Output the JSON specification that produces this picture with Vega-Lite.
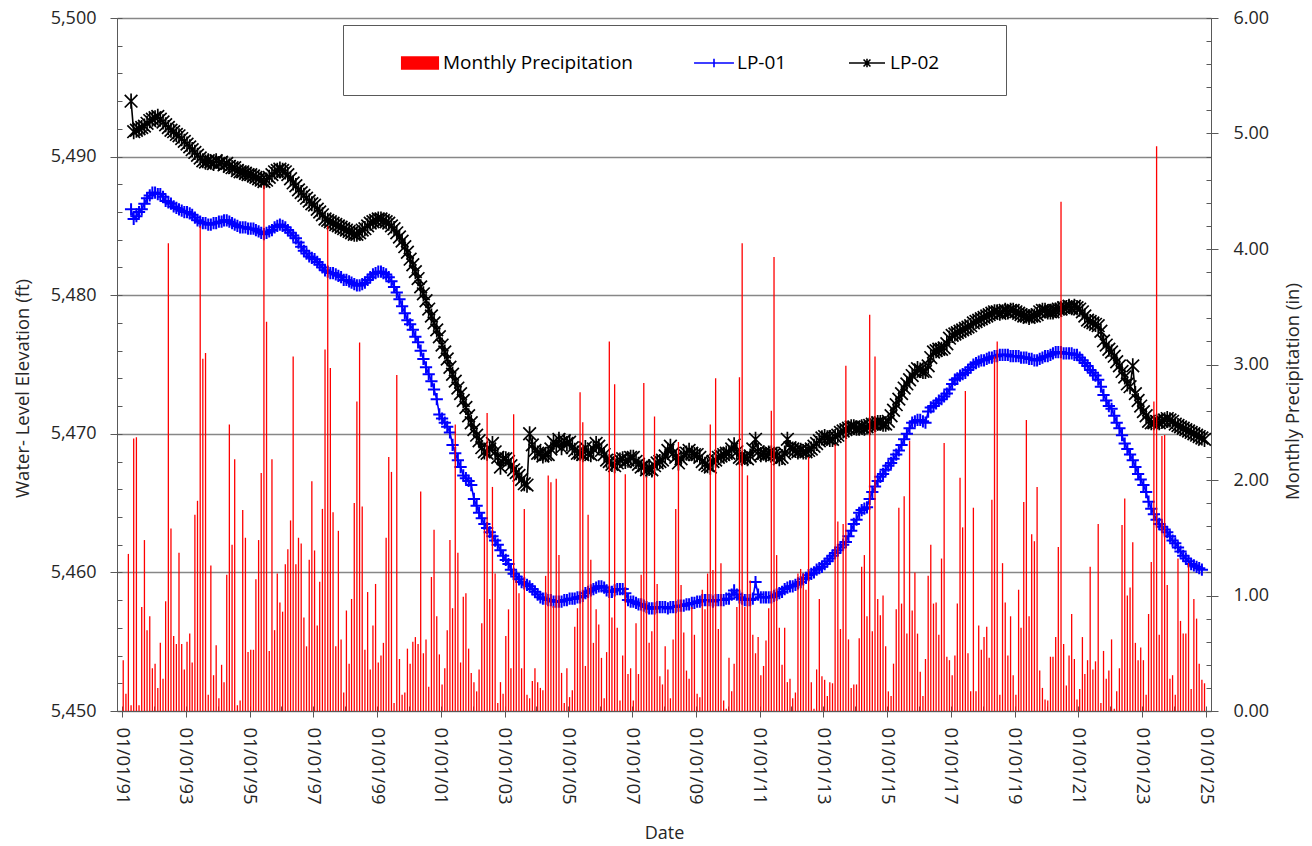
{
"$schema": "https://vega.github.io/schema/vega-lite/v6.json",
"width": 1094, "height": 693,
"autosize": {"type": "none"},
"padding": {"left": 117, "top": 18, "right": 101, "bottom": 135},
"background": "white",
"config": {"view": {"stroke": null}, "font": "Open Sans",
 "axis": {"labelFont": "Open Sans", "titleFont": "Open Sans", "labelColor": "#262626", "titleColor": "#262626", "titleFontWeight": "normal", "domainColor": "#595959", "tickColor": "#595959", "tickWidth": 1, "domainWidth": 1}},
"datasets": {"m": [
{"d":"1991-01-15","p":0.44,"a":null,"b":null},{"d":"1991-02-15","p":0.15,"a":null,"b":null},{"d":"1991-03-15","p":1.36,"a":null,"b":null},{"d":"1991-04-15","p":0.05,"a":5486.2,"b":5494.0},{"d":"1991-05-15","p":2.36,"a":5485.5,"b":5491.8},{"d":"1991-06-15","p":2.37,"a":5485.7,"b":5491.9},{"d":"1991-07-15","p":0.05,"a":5486.0,"b":5492.0},{"d":"1991-08-15","p":0.9,"a":5486.2,"b":5492.1},{"d":"1991-09-15","p":1.48,"a":5486.6,"b":5492.2},{"d":"1991-10-15","p":0.7,"a":5487.0,"b":5492.4},{"d":"1991-11-15","p":0.82,"a":5487.2,"b":5492.6},{"d":"1991-12-15","p":0.37,"a":5487.4,"b":5492.7},
{"d":"1992-01-15","p":0.41,"a":5487.4,"b":5492.8},{"d":"1992-02-15","p":0.2,"a":5487.3,"b":5492.9},{"d":"1992-03-15","p":0.59,"a":5487.3,"b":5492.7},{"d":"1992-04-15","p":0.28,"a":5487.1,"b":5492.5},{"d":"1992-05-15","p":0.95,"a":5486.8,"b":5492.3},{"d":"1992-06-15","p":4.05,"a":5486.7,"b":5492.1},{"d":"1992-07-15","p":1.58,"a":5486.6,"b":5491.9},{"d":"1992-08-15","p":0.65,"a":5486.4,"b":5491.8},{"d":"1992-09-15","p":0.58,"a":5486.3,"b":5491.6},{"d":"1992-10-15","p":1.37,"a":5486.2,"b":5491.5},{"d":"1992-11-15","p":0.58,"a":5486.1,"b":5491.3},{"d":"1992-12-15","p":0.36,"a":5486.0,"b":5491.1},
{"d":"1993-01-15","p":0.6,"a":5486.0,"b":5490.9},{"d":"1993-02-15","p":0.67,"a":5485.9,"b":5490.7},{"d":"1993-03-15","p":0.42,"a":5485.8,"b":5490.5},{"d":"1993-04-15","p":1.7,"a":5485.6,"b":5490.3},{"d":"1993-05-15","p":1.82,"a":5485.4,"b":5490.1},{"d":"1993-06-15","p":4.2,"a":5485.3,"b":5489.9},{"d":"1993-07-15","p":3.05,"a":5485.2,"b":5489.7},{"d":"1993-08-15","p":3.1,"a":5485.2,"b":5489.6},{"d":"1993-09-15","p":0.14,"a":5485.1,"b":5489.7},{"d":"1993-10-15","p":1.26,"a":5485.1,"b":5489.6},{"d":"1993-11-15","p":0.31,"a":5485.2,"b":5489.5},{"d":"1993-12-15","p":0.57,"a":5485.2,"b":5489.7},
{"d":"1994-01-15","p":0.11,"a":5485.3,"b":5489.5},{"d":"1994-02-15","p":0.4,"a":5485.3,"b":5489.6},{"d":"1994-03-15","p":0.25,"a":5485.4,"b":5489.4},{"d":"1994-04-15","p":1.18,"a":5485.4,"b":5489.5},{"d":"1994-05-15","p":2.48,"a":5485.3,"b":5489.3},{"d":"1994-06-15","p":1.44,"a":5485.2,"b":5489.2},{"d":"1994-07-15","p":2.18,"a":5485.1,"b":5489.2},{"d":"1994-08-15","p":0.05,"a":5485.0,"b":5489.0},{"d":"1994-09-15","p":0.09,"a":5484.9,"b":5488.9},{"d":"1994-10-15","p":1.74,"a":5484.9,"b":5488.9},{"d":"1994-11-15","p":1.5,"a":5484.9,"b":5488.8},{"d":"1994-12-15","p":0.51,"a":5484.8,"b":5488.7},
{"d":"1995-01-15","p":0.53,"a":5484.8,"b":5488.7},{"d":"1995-02-15","p":0.53,"a":5484.8,"b":5488.6},{"d":"1995-03-15","p":1.14,"a":5484.7,"b":5488.5},{"d":"1995-04-15","p":1.48,"a":5484.6,"b":5488.4},{"d":"1995-05-15","p":2.06,"a":5484.5,"b":5488.3},{"d":"1995-06-15","p":4.55,"a":5484.4,"b":5488.2},{"d":"1995-07-15","p":3.37,"a":5484.5,"b":5488.3},{"d":"1995-08-15","p":0.52,"a":5484.6,"b":5488.5},{"d":"1995-09-15","p":2.18,"a":5484.7,"b":5488.7},{"d":"1995-10-15","p":0.7,"a":5484.9,"b":5488.9},{"d":"1995-11-15","p":1.19,"a":5485.0,"b":5489.0},{"d":"1995-12-15","p":0.94,"a":5485.1,"b":5489.1},
{"d":"1996-01-15","p":0.86,"a":5485.0,"b":5489.0},{"d":"1996-02-15","p":1.27,"a":5484.9,"b":5488.9},{"d":"1996-03-15","p":1.4,"a":5484.7,"b":5488.7},{"d":"1996-04-15","p":1.65,"a":5484.5,"b":5488.4},{"d":"1996-05-15","p":3.07,"a":5484.3,"b":5488.1},{"d":"1996-06-15","p":1.27,"a":5484.1,"b":5487.9},{"d":"1996-07-15","p":1.5,"a":5483.8,"b":5487.6},{"d":"1996-08-15","p":1.45,"a":5483.5,"b":5487.4},{"d":"1996-09-15","p":0.81,"a":5483.2,"b":5487.2},{"d":"1996-10-15","p":0.56,"a":5483.0,"b":5487.0},{"d":"1996-11-15","p":1.31,"a":5482.8,"b":5486.8},{"d":"1996-12-15","p":1.99,"a":5482.7,"b":5486.6},
{"d":"1997-01-15","p":1.39,"a":5482.6,"b":5486.5},{"d":"1997-02-15","p":0.74,"a":5482.4,"b":5486.2},{"d":"1997-03-15","p":1.12,"a":5482.2,"b":5486.0},{"d":"1997-04-15","p":1.75,"a":5482.0,"b":5485.8},{"d":"1997-05-15","p":3.13,"a":5481.8,"b":5485.5},{"d":"1997-06-15","p":4.2,"a":5481.7,"b":5485.4},{"d":"1997-07-15","p":2.97,"a":5481.6,"b":5485.3},{"d":"1997-08-15","p":1.72,"a":5481.6,"b":5485.2},{"d":"1997-09-15","p":0.56,"a":5481.5,"b":5485.1},{"d":"1997-10-15","p":1.56,"a":5481.4,"b":5485.0},{"d":"1997-11-15","p":0.62,"a":5481.3,"b":5484.9},{"d":"1997-12-15","p":0.16,"a":5481.1,"b":5484.8},
{"d":"1998-01-15","p":0.87,"a":5481.1,"b":5484.7},{"d":"1998-02-15","p":0.41,"a":5481.0,"b":5484.6},{"d":"1998-03-15","p":0.97,"a":5480.9,"b":5484.5},{"d":"1998-04-15","p":1.8,"a":5480.8,"b":5484.4},{"d":"1998-05-15","p":2.68,"a":5480.7,"b":5484.4},{"d":"1998-06-15","p":3.19,"a":5480.7,"b":5484.5},{"d":"1998-07-15","p":1.77,"a":5480.8,"b":5484.7},{"d":"1998-08-15","p":0.53,"a":5480.9,"b":5484.8},{"d":"1998-09-15","p":1.03,"a":5481.1,"b":5485.0},{"d":"1998-10-15","p":0.36,"a":5481.3,"b":5485.2},{"d":"1998-11-15","p":0.74,"a":5481.5,"b":5485.3},{"d":"1998-12-15","p":1.1,"a":5481.6,"b":5485.4},
{"d":"1999-01-15","p":0.42,"a":5481.7,"b":5485.5},{"d":"1999-02-15","p":0.48,"a":5481.7,"b":5485.5},{"d":"1999-03-15","p":0.59,"a":5481.6,"b":5485.4},{"d":"1999-04-15","p":1.5,"a":5481.5,"b":5485.3},{"d":"1999-05-15","p":2.2,"a":5481.3,"b":5485.2},{"d":"1999-06-15","p":2.07,"a":5481.0,"b":5485.0},{"d":"1999-07-15","p":0.07,"a":5480.6,"b":5484.8},{"d":"1999-08-15","p":2.91,"a":5480.2,"b":5484.5},{"d":"1999-09-15","p":0.45,"a":5479.7,"b":5484.2},{"d":"1999-10-15","p":0.14,"a":5479.2,"b":5483.9},{"d":"1999-11-15","p":0.16,"a":5478.7,"b":5483.5},{"d":"1999-12-15","p":0.54,"a":5478.2,"b":5483.1},
{"d":"2000-01-15","p":0.41,"a":5477.9,"b":5482.6},{"d":"2000-02-15","p":0.6,"a":5477.5,"b":5482.2},{"d":"2000-03-15","p":0.64,"a":5477.0,"b":5481.7},{"d":"2000-04-15","p":0.58,"a":5476.6,"b":5481.2},{"d":"2000-05-15","p":1.9,"a":5476.0,"b":5480.6},{"d":"2000-06-15","p":0.5,"a":5475.4,"b":5480.1},{"d":"2000-07-15","p":0.62,"a":5474.8,"b":5479.6},{"d":"2000-08-15","p":0.21,"a":5474.3,"b":5479.0},{"d":"2000-09-15","p":1.16,"a":5473.8,"b":5478.5},{"d":"2000-10-15","p":1.57,"a":5473.2,"b":5478.0},{"d":"2000-11-15","p":0.82,"a":5472.5,"b":5477.5},{"d":"2000-12-15","p":0.49,"a":5471.4,"b":5477.0},
{"d":"2001-01-15","p":0.23,"a":5471.1,"b":5476.4},{"d":"2001-02-15","p":0.37,"a":5470.8,"b":5475.9},{"d":"2001-03-15","p":0.7,"a":5470.5,"b":5475.4},{"d":"2001-04-15","p":1.48,"a":5470.1,"b":5474.8},{"d":"2001-05-15","p":0.89,"a":5469.2,"b":5474.3},{"d":"2001-06-15","p":2.48,"a":5468.6,"b":5473.8},{"d":"2001-07-15","p":1.37,"a":5468.1,"b":5473.3},{"d":"2001-08-15","p":0.42,"a":5467.6,"b":5472.9},{"d":"2001-09-15","p":0.99,"a":5467.0,"b":5472.4},{"d":"2001-10-15","p":1.02,"a":5466.8,"b":5471.9},{"d":"2001-11-15","p":0.54,"a":5466.6,"b":5471.3},{"d":"2001-12-15","p":0.33,"a":5466.3,"b":5470.8},
{"d":"2002-01-15","p":0.25,"a":5465.3,"b":5470.3},{"d":"2002-02-15","p":0.17,"a":5464.8,"b":5469.9},{"d":"2002-03-15","p":0.36,"a":5464.3,"b":5469.5},{"d":"2002-04-15","p":0.76,"a":5463.9,"b":5469.0},{"d":"2002-05-15","p":1.57,"a":5463.5,"b":5468.7},{"d":"2002-06-15","p":2.58,"a":5463.2,"b":5468.6},{"d":"2002-07-15","p":0.97,"a":5462.9,"b":5468.9},{"d":"2002-08-15","p":1.94,"a":5462.6,"b":5469.3},{"d":"2002-09-15","p":1.19,"a":5462.3,"b":5468.7},{"d":"2002-10-15","p":0.07,"a":5462.0,"b":5468.3},{"d":"2002-11-15","p":0.25,"a":5461.6,"b":5467.6},{"d":"2002-12-15","p":0.15,"a":5461.2,"b":5468.2},
{"d":"2003-01-15","p":0.65,"a":5460.9,"b":5468.2},{"d":"2003-02-15","p":0.88,"a":5460.6,"b":5468.0},{"d":"2003-03-15","p":0.37,"a":5460.2,"b":5467.7},{"d":"2003-04-15","p":2.57,"a":5459.9,"b":5467.4},{"d":"2003-05-15","p":1.13,"a":5459.7,"b":5467.2},{"d":"2003-06-15","p":1.02,"a":5459.5,"b":5467.0},{"d":"2003-07-15","p":0.37,"a":5459.3,"b":5466.7},{"d":"2003-08-15","p":1.75,"a":5459.2,"b":5466.4},{"d":"2003-09-15","p":0.14,"a":5459.1,"b":5466.3},{"d":"2003-10-15","p":0.11,"a":5459.0,"b":5470.0},{"d":"2003-11-15","p":0.26,"a":5458.8,"b":5469.2},{"d":"2003-12-15","p":0.37,"a":5458.6,"b":5468.8},
{"d":"2004-01-15","p":0.25,"a":5458.4,"b":5468.6},{"d":"2004-02-15","p":0.2,"a":5458.2,"b":5468.6},{"d":"2004-03-15","p":0.18,"a":5458.1,"b":5468.4},{"d":"2004-04-15","p":1.17,"a":5458.1,"b":5468.5},{"d":"2004-05-15","p":2.04,"a":5458.0,"b":5468.5},{"d":"2004-06-15","p":1.98,"a":5458.0,"b":5468.9},{"d":"2004-07-15","p":0.91,"a":5457.9,"b":5469.4},{"d":"2004-08-15","p":2.01,"a":5457.9,"b":5469.2},{"d":"2004-09-15","p":1.35,"a":5457.9,"b":5469.6},{"d":"2004-10-15","p":0.33,"a":5457.9,"b":5469.0},{"d":"2004-11-15","p":0.07,"a":5458.0,"b":5469.5},{"d":"2004-12-15","p":0.37,"a":5458.0,"b":5469.3},
{"d":"2005-01-15","p":0.12,"a":5458.1,"b":5469.4},{"d":"2005-02-15","p":0.18,"a":5458.1,"b":5469.0},{"d":"2005-03-15","p":0.73,"a":5458.1,"b":5468.8},{"d":"2005-04-15","p":0.89,"a":5458.2,"b":5468.6},{"d":"2005-05-15","p":2.76,"a":5458.2,"b":5468.6},{"d":"2005-06-15","p":2.5,"a":5458.3,"b":5468.5},{"d":"2005-07-15","p":0.39,"a":5458.5,"b":5469.0},{"d":"2005-08-15","p":1.7,"a":5458.6,"b":5468.6},{"d":"2005-09-15","p":1.31,"a":5458.7,"b":5468.5},{"d":"2005-10-15","p":0.59,"a":5458.8,"b":5468.9},{"d":"2005-11-15","p":0.88,"a":5458.9,"b":5469.3},{"d":"2005-12-15","p":0.75,"a":5459.0,"b":5469.1},
{"d":"2006-01-15","p":0.46,"a":5459.0,"b":5468.8},{"d":"2006-02-15","p":0.11,"a":5458.9,"b":5468.5},{"d":"2006-03-15","p":0.51,"a":5458.7,"b":5468.1},{"d":"2006-04-15","p":3.2,"a":5458.6,"b":5468.0},{"d":"2006-05-15","p":0.81,"a":5458.6,"b":5467.8},{"d":"2006-06-15","p":2.83,"a":5458.7,"b":5467.7},{"d":"2006-07-15","p":0.72,"a":5458.8,"b":5467.9},{"d":"2006-08-15","p":0.09,"a":5458.8,"b":5468.1},{"d":"2006-09-15","p":0.48,"a":5458.8,"b":5468.2},{"d":"2006-10-15","p":2.05,"a":5458.5,"b":5468.0},{"d":"2006-11-15","p":0.32,"a":5458.0,"b":5468.1},{"d":"2006-12-15","p":0.37,"a":5457.9,"b":5468.3},
{"d":"2007-01-15","p":0.09,"a":5457.9,"b":5468.3},{"d":"2007-02-15","p":0.76,"a":5457.8,"b":5468.0},{"d":"2007-03-15","p":0.32,"a":5457.7,"b":5467.8},{"d":"2007-04-15","p":1.18,"a":5457.7,"b":5467.6},{"d":"2007-05-15","p":2.84,"a":5457.6,"b":5467.7},{"d":"2007-06-15","p":2.03,"a":5457.5,"b":5467.4},{"d":"2007-07-15","p":0.59,"a":5457.4,"b":5467.5},{"d":"2007-08-15","p":0.69,"a":5457.4,"b":5467.4},{"d":"2007-09-15","p":2.55,"a":5457.4,"b":5467.7},{"d":"2007-10-15","p":1.1,"a":5457.5,"b":5467.9},{"d":"2007-11-15","p":0.3,"a":5457.5,"b":5468.0},{"d":"2007-12-15","p":0.23,"a":5457.5,"b":5468.1},
{"d":"2008-01-15","p":0.56,"a":5457.5,"b":5468.4},{"d":"2008-02-15","p":0.36,"a":5457.4,"b":5468.8},{"d":"2008-03-15","p":0.11,"a":5457.5,"b":5469.1},{"d":"2008-04-15","p":0.62,"a":5457.5,"b":5468.6},{"d":"2008-05-15","p":1.75,"a":5457.5,"b":5468.3},{"d":"2008-06-15","p":2.33,"a":5457.6,"b":5467.9},{"d":"2008-07-15","p":1.09,"a":5457.6,"b":5468.2},{"d":"2008-08-15","p":0.68,"a":5457.6,"b":5468.5},{"d":"2008-09-15","p":0.35,"a":5457.7,"b":5468.6},{"d":"2008-10-15","p":0.28,"a":5457.7,"b":5468.8},{"d":"2008-11-15","p":0.9,"a":5457.8,"b":5468.6},{"d":"2008-12-15","p":0.66,"a":5457.8,"b":5468.5},
{"d":"2009-01-15","p":0.15,"a":5457.9,"b":5468.5},{"d":"2009-02-15","p":0.12,"a":5457.9,"b":5468.3},{"d":"2009-03-15","p":1.05,"a":5458.0,"b":5468.0},{"d":"2009-04-15","p":0.88,"a":5458.0,"b":5467.8},{"d":"2009-05-15","p":1.19,"a":5458.0,"b":5467.7},{"d":"2009-06-15","p":2.48,"a":5458.0,"b":5467.6},{"d":"2009-07-15","p":1.22,"a":5457.9,"b":5468.0},{"d":"2009-08-15","p":2.88,"a":5458.0,"b":5468.1},{"d":"2009-09-15","p":0.71,"a":5458.0,"b":5468.3},{"d":"2009-10-15","p":1.28,"a":5458.0,"b":5468.4},{"d":"2009-11-15","p":0.09,"a":5458.0,"b":5468.5},{"d":"2009-12-15","p":0.02,"a":5458.1,"b":5468.6},
{"d":"2010-01-15","p":0.46,"a":5458.1,"b":5468.6},{"d":"2010-02-15","p":0.17,"a":5458.4,"b":5468.9},{"d":"2010-03-15","p":0.41,"a":5458.7,"b":5469.2},{"d":"2010-04-15","p":0.9,"a":5458.4,"b":5468.7},{"d":"2010-05-15","p":2.89,"a":5458.2,"b":5468.3},{"d":"2010-06-15","p":4.05,"a":5458.1,"b":5468.2},{"d":"2010-07-15","p":0.9,"a":5458.0,"b":5468.3},{"d":"2010-08-15","p":2.04,"a":5458.0,"b":5468.2},{"d":"2010-09-15","p":1.13,"a":5458.0,"b":5468.4},{"d":"2010-10-15","p":0.66,"a":5458.1,"b":5468.9},{"d":"2010-11-15","p":0.5,"a":5459.3,"b":5469.6},{"d":"2010-12-15","p":0.64,"a":5458.4,"b":5468.7},
{"d":"2011-01-15","p":0.31,"a":5458.2,"b":5468.5},{"d":"2011-02-15","p":0.39,"a":5458.2,"b":5468.6},{"d":"2011-03-15","p":0.61,"a":5458.2,"b":5468.5},{"d":"2011-04-15","p":0.89,"a":5458.2,"b":5468.6},{"d":"2011-05-15","p":2.6,"a":5458.2,"b":5468.6},{"d":"2011-06-15","p":3.93,"a":5458.3,"b":5468.5},{"d":"2011-07-15","p":1.35,"a":5458.4,"b":5468.4},{"d":"2011-08-15","p":0.72,"a":5458.5,"b":5468.2},{"d":"2011-09-15","p":0.4,"a":5458.6,"b":5468.3},{"d":"2011-10-15","p":0.72,"a":5458.8,"b":5468.6},{"d":"2011-11-15","p":0.25,"a":5458.9,"b":5469.6},{"d":"2011-12-15","p":0.28,"a":5459.0,"b":5469.0},
{"d":"2012-01-15","p":0.11,"a":5459.0,"b":5468.9},{"d":"2012-02-15","p":0.16,"a":5459.1,"b":5468.8},{"d":"2012-03-15","p":1.19,"a":5459.2,"b":5468.7},{"d":"2012-04-15","p":1.23,"a":5459.3,"b":5468.8},{"d":"2012-05-15","p":1.19,"a":5459.5,"b":5468.7},{"d":"2012-06-15","p":1.05,"a":5459.6,"b":5468.7},{"d":"2012-07-15","p":2.2,"a":5459.8,"b":5468.8},{"d":"2012-08-15","p":0.25,"a":5459.9,"b":5468.9},{"d":"2012-09-15","p":0.02,"a":5460.0,"b":5469.1},{"d":"2012-10-15","p":0.36,"a":5460.2,"b":5469.3},{"d":"2012-11-15","p":0.97,"a":5460.3,"b":5469.5},{"d":"2012-12-15","p":0.3,"a":5460.4,"b":5469.7},
{"d":"2013-01-15","p":0.27,"a":5460.6,"b":5469.8},{"d":"2013-02-15","p":0.13,"a":5460.8,"b":5469.7},{"d":"2013-03-15","p":0.25,"a":5461.0,"b":5469.6},{"d":"2013-04-15","p":0.24,"a":5461.2,"b":5469.6},{"d":"2013-05-15","p":2.31,"a":5461.4,"b":5469.8},{"d":"2013-06-15","p":1.64,"a":5461.6,"b":5469.9},{"d":"2013-07-15","p":0.71,"a":5461.8,"b":5470.1},{"d":"2013-08-15","p":1.62,"a":5462.0,"b":5470.2},{"d":"2013-09-15","p":2.99,"a":5462.2,"b":5470.3},{"d":"2013-10-15","p":0.62,"a":5462.6,"b":5470.4},{"d":"2013-11-15","p":0.2,"a":5463.0,"b":5470.5},{"d":"2013-12-15","p":0.23,"a":5463.5,"b":5470.5},
{"d":"2014-01-15","p":0.23,"a":5463.8,"b":5470.4},{"d":"2014-02-15","p":0.63,"a":5464.3,"b":5470.4},{"d":"2014-03-15","p":1.25,"a":5464.5,"b":5470.5},{"d":"2014-04-15","p":1.35,"a":5464.6,"b":5470.4},{"d":"2014-05-15","p":0.82,"a":5464.7,"b":5470.5},{"d":"2014-06-15","p":3.43,"a":5465.3,"b":5470.6},{"d":"2014-07-15","p":0.69,"a":5465.8,"b":5470.7},{"d":"2014-08-15","p":3.07,"a":5466.2,"b":5470.7},{"d":"2014-09-15","p":0.97,"a":5466.6,"b":5470.8},{"d":"2014-10-15","p":0.83,"a":5466.9,"b":5470.8},{"d":"2014-11-15","p":1.0,"a":5467.1,"b":5470.7},{"d":"2014-12-15","p":0.56,"a":5467.4,"b":5470.7},
{"d":"2015-01-15","p":0.17,"a":5467.7,"b":5470.9},{"d":"2015-02-15","p":0.13,"a":5467.9,"b":5471.3},{"d":"2015-03-15","p":0.41,"a":5468.2,"b":5471.7},{"d":"2015-04-15","p":0.88,"a":5468.5,"b":5472.1},{"d":"2015-05-15","p":1.76,"a":5468.8,"b":5472.5},{"d":"2015-06-15","p":0.93,"a":5469.2,"b":5472.9},{"d":"2015-07-15","p":1.86,"a":5469.6,"b":5473.3},{"d":"2015-08-15","p":0.67,"a":5470.0,"b":5473.6},{"d":"2015-09-15","p":2.34,"a":5470.4,"b":5473.9},{"d":"2015-10-15","p":0.87,"a":5470.8,"b":5474.2},{"d":"2015-11-15","p":1.2,"a":5470.9,"b":5474.5},{"d":"2015-12-15","p":0.67,"a":5471.0,"b":5474.7},
{"d":"2016-01-15","p":0.34,"a":5471.0,"b":5474.6},{"d":"2016-02-15","p":0.13,"a":5470.9,"b":5474.5},{"d":"2016-03-15","p":0.45,"a":5470.8,"b":5474.5},{"d":"2016-04-15","p":1.17,"a":5471.6,"b":5474.9},{"d":"2016-05-15","p":1.44,"a":5471.9,"b":5475.5},{"d":"2016-06-15","p":0.93,"a":5472.0,"b":5475.9},{"d":"2016-07-15","p":0.94,"a":5472.2,"b":5476.0},{"d":"2016-08-15","p":0.66,"a":5472.4,"b":5476.1},{"d":"2016-09-15","p":1.32,"a":5472.5,"b":5476.1},{"d":"2016-10-15","p":2.32,"a":5472.7,"b":5476.2},{"d":"2016-11-15","p":0.47,"a":5472.9,"b":5476.5},{"d":"2016-12-15","p":0.44,"a":5473.2,"b":5476.9},
{"d":"2017-01-15","p":0.31,"a":5473.6,"b":5477.1},{"d":"2017-02-15","p":0.48,"a":5473.9,"b":5477.2},{"d":"2017-03-15","p":0.93,"a":5474.0,"b":5477.3},{"d":"2017-04-15","p":2.02,"a":5474.2,"b":5477.4},{"d":"2017-05-15","p":1.59,"a":5474.3,"b":5477.5},{"d":"2017-06-15","p":2.77,"a":5474.4,"b":5477.6},{"d":"2017-07-15","p":0.5,"a":5474.6,"b":5477.7},{"d":"2017-08-15","p":0.17,"a":5474.8,"b":5477.8},{"d":"2017-09-15","p":1.76,"a":5475.0,"b":5478.0},{"d":"2017-10-15","p":0.17,"a":5475.1,"b":5478.1},{"d":"2017-11-15","p":0.74,"a":5475.2,"b":5478.2},{"d":"2017-12-15","p":0.53,"a":5475.3,"b":5478.3},
{"d":"2018-01-15","p":0.64,"a":5475.3,"b":5478.4},{"d":"2018-02-15","p":0.73,"a":5475.4,"b":5478.5},{"d":"2018-03-15","p":0.46,"a":5475.5,"b":5478.6},{"d":"2018-04-15","p":1.83,"a":5475.5,"b":5478.7},{"d":"2018-05-15","p":3.07,"a":5475.6,"b":5478.8},{"d":"2018-06-15","p":3.2,"a":5475.6,"b":5478.8},{"d":"2018-07-15","p":0.14,"a":5475.7,"b":5478.7},{"d":"2018-08-15","p":1.28,"a":5475.7,"b":5478.8},{"d":"2018-09-15","p":0.94,"a":5475.7,"b":5478.9},{"d":"2018-10-15","p":0.48,"a":5475.7,"b":5478.8},{"d":"2018-11-15","p":0.82,"a":5475.6,"b":5478.9},{"d":"2018-12-15","p":0.31,"a":5475.6,"b":5478.9},
{"d":"2019-01-15","p":0.14,"a":5475.6,"b":5478.8},{"d":"2019-02-15","p":1.05,"a":5475.6,"b":5478.7},{"d":"2019-03-15","p":0.72,"a":5475.5,"b":5478.6},{"d":"2019-04-15","p":1.81,"a":5475.5,"b":5478.5},{"d":"2019-05-15","p":2.52,"a":5475.5,"b":5478.5},{"d":"2019-06-15","p":0.82,"a":5475.4,"b":5478.4},{"d":"2019-07-15","p":1.53,"a":5475.4,"b":5478.5},{"d":"2019-08-15","p":1.47,"a":5475.3,"b":5478.5},{"d":"2019-09-15","p":1.94,"a":5475.3,"b":5478.6},{"d":"2019-10-15","p":0.35,"a":5475.4,"b":5478.8},{"d":"2019-11-15","p":0.2,"a":5475.5,"b":5478.9},{"d":"2019-12-15","p":0.1,"a":5475.6,"b":5478.9},
{"d":"2020-01-15","p":0.09,"a":5475.6,"b":5478.8},{"d":"2020-02-15","p":0.47,"a":5475.7,"b":5478.8},{"d":"2020-03-15","p":0.47,"a":5475.8,"b":5478.8},{"d":"2020-04-15","p":0.64,"a":5475.9,"b":5478.9},{"d":"2020-05-15","p":1.42,"a":5475.9,"b":5479.0},{"d":"2020-06-15","p":4.41,"a":5475.9,"b":5479.0},{"d":"2020-07-15","p":0.58,"a":5475.8,"b":5479.1},{"d":"2020-08-15","p":0.22,"a":5475.8,"b":5479.1},{"d":"2020-09-15","p":0.48,"a":5475.8,"b":5479.2},{"d":"2020-10-15","p":0.84,"a":5475.8,"b":5479.1},{"d":"2020-11-15","p":0.45,"a":5475.7,"b":5479.2},{"d":"2020-12-15","p":0.1,"a":5475.7,"b":5479.1},
{"d":"2021-01-15","p":0.19,"a":5475.5,"b":5479.0},{"d":"2021-02-15","p":0.64,"a":5475.3,"b":5478.8},{"d":"2021-03-15","p":0.32,"a":5475.1,"b":5478.5},{"d":"2021-04-15","p":0.44,"a":5474.9,"b":5478.2},{"d":"2021-05-15","p":1.25,"a":5474.6,"b":5478.1},{"d":"2021-06-15","p":0.36,"a":5474.4,"b":5478.0},{"d":"2021-07-15","p":0.43,"a":5474.2,"b":5477.9},{"d":"2021-08-15","p":1.62,"a":5473.9,"b":5477.8},{"d":"2021-09-15","p":0.07,"a":5473.4,"b":5477.4},{"d":"2021-10-15","p":0.52,"a":5472.8,"b":5476.7},{"d":"2021-11-15","p":0.28,"a":5472.4,"b":5476.4},{"d":"2021-12-15","p":0.35,"a":5472.0,"b":5476.1},
{"d":"2022-01-15","p":0.62,"a":5471.8,"b":5475.9},{"d":"2022-02-15","p":0.02,"a":5471.3,"b":5475.6},{"d":"2022-03-15","p":0.17,"a":5470.8,"b":5475.2},{"d":"2022-04-15","p":0.37,"a":5470.4,"b":5474.9},{"d":"2022-05-15","p":1.61,"a":5469.9,"b":5474.5},{"d":"2022-06-15","p":1.84,"a":5469.3,"b":5474.1},{"d":"2022-07-15","p":1.0,"a":5468.9,"b":5473.6},{"d":"2022-08-15","p":1.07,"a":5468.5,"b":5473.4},{"d":"2022-09-15","p":1.46,"a":5468.1,"b":5474.9},{"d":"2022-10-15","p":0.59,"a":5467.6,"b":5472.9},{"d":"2022-11-15","p":0.44,"a":5467.1,"b":5472.4},{"d":"2022-12-15","p":0.55,"a":5466.7,"b":5472.0},
{"d":"2023-01-15","p":0.44,"a":5466.3,"b":5471.6},{"d":"2023-02-15","p":0.14,"a":5465.8,"b":5471.3},{"d":"2023-03-15","p":0.84,"a":5465.1,"b":5470.9},{"d":"2023-04-15","p":1.29,"a":5464.6,"b":5470.8},{"d":"2023-05-15","p":2.68,"a":5464.2,"b":5470.8},{"d":"2023-06-15","p":4.89,"a":5463.8,"b":5470.9},{"d":"2023-07-15","p":0.66,"a":5463.5,"b":5470.8},{"d":"2023-08-15","p":2.38,"a":5463.3,"b":5470.9},{"d":"2023-09-15","p":2.39,"a":5463.1,"b":5471.0},{"d":"2023-10-15","p":1.09,"a":5462.9,"b":5471.1},{"d":"2023-11-15","p":0.28,"a":5462.6,"b":5471.0},{"d":"2023-12-15","p":0.31,"a":5462.3,"b":5470.9},
{"d":"2024-01-15","p":0.14,"a":5462.1,"b":5470.7},{"d":"2024-02-15","p":1.32,"a":5461.8,"b":5470.6},{"d":"2024-03-15","p":0.78,"a":5461.5,"b":5470.5},{"d":"2024-04-15","p":0.67,"a":5461.2,"b":5470.4},{"d":"2024-05-15","p":0.67,"a":5461.0,"b":5470.3},{"d":"2024-06-15","p":1.28,"a":5460.8,"b":5470.2},{"d":"2024-07-15","p":0.19,"a":5460.6,"b":5470.1},{"d":"2024-08-15","p":0.97,"a":5460.5,"b":5470.0},{"d":"2024-09-15","p":0.8,"a":5460.4,"b":5469.9},{"d":"2024-10-15","p":0.41,"a":5460.3,"b":5469.8},{"d":"2024-11-15","p":0.27,"a":5460.2,"b":5469.7},{"d":"2024-12-15","p":0.24,"a":null,"b":5469.6}
]},
"data": {"name": "m"},
"layer": [
 {
  "transform": [{"filter": "isValid(datum.a)"}],
  "mark": {"type": "line", "strokeWidth": 1.6, "point": {"shape": "M-1,0H1M0,-1V1", "size": 150, "filled": false, "strokeWidth": 2}},
  "encoding": {
   "x": {"field": "d", "type": "temporal",
    "scale": {"type": "utc", "nice": false, "domain": [{"year": 1991, "month": 1, "date": 1, "utc": true}, {"year": 2025, "month": 1, "date": 1, "utc": true}]},
    "axis": {"orient": "bottom", "tickSize": -5, "labels": false, "domain": false, "grid": false, "title": null,
     "values": [{"year":1991,"month":1,"date":1,"utc":true},{"year":1992,"month":1,"date":1,"utc":true},{"year":1993,"month":1,"date":1,"utc":true},{"year":1994,"month":1,"date":1,"utc":true},{"year":1995,"month":1,"date":1,"utc":true},{"year":1996,"month":1,"date":1,"utc":true},{"year":1997,"month":1,"date":1,"utc":true},{"year":1998,"month":1,"date":1,"utc":true},{"year":1999,"month":1,"date":1,"utc":true},{"year":2000,"month":1,"date":1,"utc":true},{"year":2001,"month":1,"date":1,"utc":true},{"year":2002,"month":1,"date":1,"utc":true},{"year":2003,"month":1,"date":1,"utc":true},{"year":2004,"month":1,"date":1,"utc":true},{"year":2005,"month":1,"date":1,"utc":true},{"year":2006,"month":1,"date":1,"utc":true},{"year":2007,"month":1,"date":1,"utc":true},{"year":2008,"month":1,"date":1,"utc":true},{"year":2009,"month":1,"date":1,"utc":true},{"year":2010,"month":1,"date":1,"utc":true},{"year":2011,"month":1,"date":1,"utc":true},{"year":2012,"month":1,"date":1,"utc":true},{"year":2013,"month":1,"date":1,"utc":true},{"year":2014,"month":1,"date":1,"utc":true},{"year":2015,"month":1,"date":1,"utc":true},{"year":2016,"month":1,"date":1,"utc":true},{"year":2017,"month":1,"date":1,"utc":true},{"year":2018,"month":1,"date":1,"utc":true},{"year":2019,"month":1,"date":1,"utc":true},{"year":2020,"month":1,"date":1,"utc":true},{"year":2021,"month":1,"date":1,"utc":true},{"year":2022,"month":1,"date":1,"utc":true},{"year":2023,"month":1,"date":1,"utc":true},{"year":2024,"month":1,"date":1,"utc":true},{"year":2025,"month":1,"date":1,"utc":true}]}},
   "y": {"field": "a", "type": "quantitative", "scale": {"domain": [5450, 5500], "nice": false, "zero": false},
    "axis": {"orient": "left", "values": [5450, 5460, 5470, 5480, 5490, 5500], "format": ",d", "tickSize": 7, "labelPadding": 14, "labelFontSize": 18, "labelOverlap": false, "labelFlush": false,
     "grid": true, "gridColor": "#878787", "gridWidth": 1.5,
     "title": "Water- Level Elevation (ft)", "titleFontSize": 18.5, "titleAngle": 270, "titleX": -95, "titleY": 370, "titleBaseline": "middle", "titleAlign": "center"}},
   "color": {"datum": "LP-01", "type": "nominal",
    "scale": {"domain": ["Monthly Precipitation", "LP-01", "LP-02"], "range": ["#ff0000", "#0000ff", "#000000"]},
    "legend": {"orient": "none", "legendX": 226, "legendY": 7, "direction": "horizontal",
     "title": " ", "titleOrient": "right", "titlePadding": 45, "titleFontSize": 18,
     "padding": 22, "strokeColor": "#595959", "fillColor": "white",
     "symbolSize": 900, "symbolStrokeWidth": 1.6, "symbolFillColor": "transparent", "symbolOpacity": 1, "symbolOffset": 39,
     "symbolType": {"expr": "datum.value === 'Monthly Precipitation' ? 'M-1.27,-0.4H1.27M-1.27,-0.333H1.27M-1.27,-0.267H1.27M-1.27,-0.2H1.27M-1.27,-0.133H1.27M-1.27,-0.067H1.27M-1.27,0H1.27M-1.27,0.067H1.27M-1.27,0.133H1.27M-1.27,0.2H1.27M-1.27,0.267H1.27M-1.27,0.333H1.27M-1.27,0.4H1.27' : (datum.value === 'LP-01' ? 'M-1.33,0H1.33M0,-0.29V0.29' : 'M-1.2,0H1.2M-0.23,-0.23L0.23,0.23M-0.23,0.23L0.23,-0.23M0,-0.29V0.29')"},
     "labelFont": "Open Sans", "labelFontSize": 19, "labelColor": "#000000", "labelOffset": 7, "labelLimit": 400, "columnPadding": 25}}
  }
 },
 {
  "transform": [{"filter": "isValid(datum.b)"}],
  "mark": {"type": "line", "strokeWidth": 1.6, "point": {"shape": "M-1,-1L1,1M-1,1L1,-1M0,-1.2V1.2", "size": 160, "filled": false, "strokeWidth": 1.7}},
  "encoding": {
   "x": {"field": "d", "type": "temporal",
    "scale": {"type": "utc", "nice": false, "domain": [{"year": 1991, "month": 1, "date": 1, "utc": true}, {"year": 2025, "month": 1, "date": 1, "utc": true}]},
    "axis": null},
   "y": {"field": "b", "type": "quantitative", "scale": {"domain": [5450, 5500], "nice": false, "zero": false},
    "axis": {"orient": "left", "tickSize": -5, "labels": false, "domain": false, "grid": false, "title": null,
     "values": [5450,5452,5454,5456,5458,5460,5462,5464,5466,5468,5470,5472,5474,5476,5478,5480,5482,5484,5486,5488,5490,5492,5494,5496,5498,5500]}},
   "color": {"datum": "LP-02", "type": "nominal"}
  }
 },
 {
  "transform": [{"filter": "year(datum.d) < 2008"}],
  "mark": {"type": "bar", "size": 1.3},
  "encoding": {
   "x": {"field": "d", "type": "temporal",
    "scale": {"type": "utc", "nice": false, "domain": [{"year": 1991, "month": 1, "date": 1, "utc": true}, {"year": 2025, "month": 1, "date": 1, "utc": true}]},
    "axis": {"orient": "bottom", "labelExpr": "utcFormat(datum.value, '%m/%d/%y')", "labelAngle": 90, "labelAlign": "left", "labelBaseline": "middle", "labelFontSize": 18.5, "labelPadding": 10, "tickSize": 6, "labelFlush": false, "labelOverlap": false, "grid": false,
     "title": "Date", "titleFontSize": 18, "titleY": 122, "titleBaseline": "middle",
     "values": [{"year":1991,"month":1,"date":1,"utc":true},{"year":1993,"month":1,"date":1,"utc":true},{"year":1995,"month":1,"date":1,"utc":true},{"year":1997,"month":1,"date":1,"utc":true},{"year":1999,"month":1,"date":1,"utc":true},{"year":2001,"month":1,"date":1,"utc":true},{"year":2003,"month":1,"date":1,"utc":true},{"year":2005,"month":1,"date":1,"utc":true},{"year":2007,"month":1,"date":1,"utc":true},{"year":2009,"month":1,"date":1,"utc":true},{"year":2011,"month":1,"date":1,"utc":true},{"year":2013,"month":1,"date":1,"utc":true},{"year":2015,"month":1,"date":1,"utc":true},{"year":2017,"month":1,"date":1,"utc":true},{"year":2019,"month":1,"date":1,"utc":true},{"year":2021,"month":1,"date":1,"utc":true},{"year":2023,"month":1,"date":1,"utc":true},{"year":2025,"month":1,"date":1,"utc":true}]}},
   "y": {"field": "p", "type": "quantitative", "scale": {"domain": [0, 6], "nice": false},
    "axis": {"orient": "right", "values": [0, 1, 2, 3, 4, 5, 6], "format": ".2f", "tickSize": 7, "labelPadding": 15, "labelFontSize": 18, "labelOverlap": false, "labelFlush": false, "grid": false,
     "title": "Monthly Precipitation (in)", "titleFontSize": 18.5, "titleAngle": 270, "titleX": 81, "titleY": 373, "titleBaseline": "middle", "titleAlign": "center"}},
   "color": {"datum": "Monthly Precipitation", "type": "nominal"}
  }
 },
 {
  "transform": [{"filter": "year(datum.d) >= 2008"}],
  "mark": {"type": "bar", "size": 1.3},
  "encoding": {
   "x": {"field": "d", "type": "temporal",
    "scale": {"type": "utc", "nice": false, "domain": [{"year": 1991, "month": 1, "date": 1, "utc": true}, {"year": 2025, "month": 1, "date": 1, "utc": true}]},
    "axis": null},
   "y": {"field": "p", "type": "quantitative", "scale": {"domain": [0, 6], "nice": false},
    "axis": {"orient": "right", "tickSize": -5, "labels": false, "domain": false, "grid": false, "title": null,
     "values": [0,0.2,0.4,0.6,0.8,1,1.2,1.4,1.6,1.8,2,2.2,2.4,2.6,2.8,3,3.2,3.4,3.6,3.8,4,4.2,4.4,4.6,4.8,5,5.2,5.4,5.6,5.8,6]}},
   "color": {"datum": "Monthly Precipitation", "type": "nominal"}
  }
 }
],
"resolve": {"scale": {"y": "independent"}, "axis": {"x": "independent", "y": "independent"}}
}
